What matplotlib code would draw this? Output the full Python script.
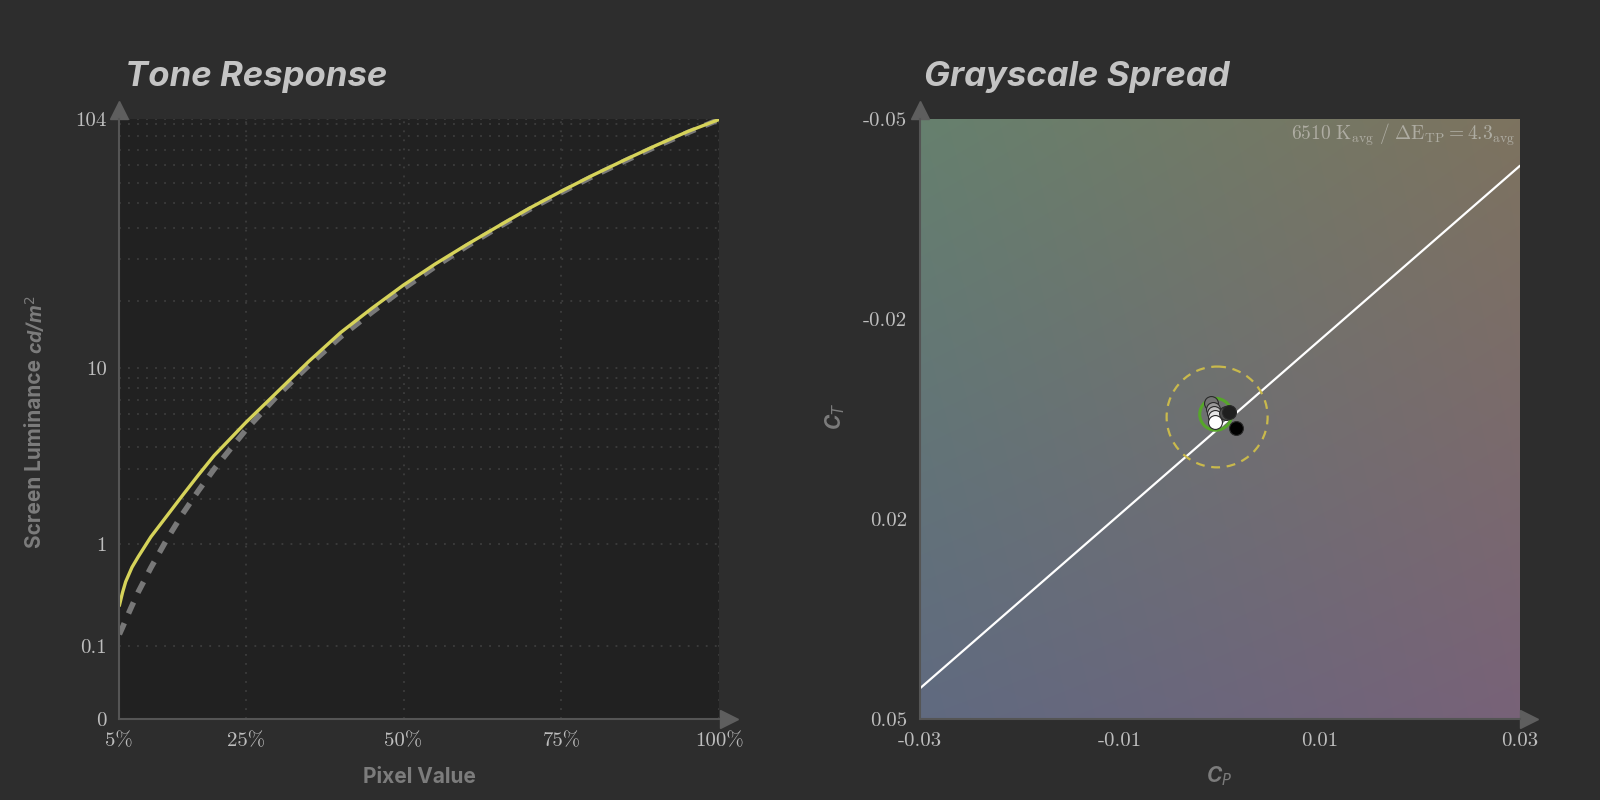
import numpy as np
import matplotlib.pyplot as plt
from matplotlib.patches import Ellipse

# Tone response: pixel value (%) vs screen luminance (cd/m2)
pixel_pct = [5, 5.5, 6, 7, 8, 10, 12.5, 15, 17.5, 20, 25, 30, 35, 40, 45, 50, 55, 60, 65, 70, 75, 80, 85, 90, 95, 100]
measured_lum = [0.30, 0.40, 0.50, 0.66, 0.80, 1.12, 1.55, 2.1, 2.78, 3.59, 5.39, 7.69, 10.76, 14.53, 18.62, 23.39,
                28.6, 34.3, 40.7, 48.0, 55.8, 64.3, 73.4, 83.3, 93.8, 104.0]
target_lum = [0.144, 0.175, 0.213, 0.300, 0.406, 0.656, 1.07, 1.60, 2.24, 3.01, 4.93, 7.36, 10.3, 13.9, 17.9, 22.6,
              27.9, 33.8, 40.3, 47.5, 55.2, 63.7, 72.7, 82.5, 92.9, 104.0]
x_ticks = [5, 25, 50, 75, 100]
x_labels = ["5%", "25%", "50%", "75%", "100%"]
y_ticks = [0, 0.1, 1, 10, 104]
y_labels = ["0", "0.1", "1", "10", "104"]
y_minor = [2, 3, 4, 5, 6, 7, 8, 9, 20, 30, 40, 50, 60, 70, 80, 90, 100]

# Grayscale spread: grey level of each patch and its Cp / Ct error
gray_levels = [0.0, 0.12, 0.3, 0.45, 0.6, 0.75, 0.9, 1.0]
cp_vals = [0.00162, 0.00095, 0.00065, -0.00087, -0.00067, -0.00060, -0.00048, -0.00041]
ct_vals = [0.00143, -0.00130, -0.00110, -0.00270, -0.00175, -0.00100, -0.00047, 0.00048]
locus_cp = [-0.03, 0.03]
locus_ct = [0.0449, -0.0422]
avg_center = (-0.00038, -0.00084)
tol_center = (-0.00024, -0.00040)
cp_ticks = [-0.03, -0.01, 0.01, 0.03]
cp_labels = ["-0.03", "-0.01", "0.01", "0.03"]
ct_ticks = list(np.linspace(-0.05, 0.05, 4))
ct_labels = ["-0.05", "-0.02", "0.02", "0.05"]
# background corner colours: top-left, top-right, bottom-left, bottom-right
bg_corners = ["#66806e", "#7d735f", "#606a80", "#786278"]

BG = "#2d2d2d"
TICK_C = "#bdbdbd"
LABEL_C = "#7c7c7c"
AXIS_C = "#555555"
SANS = ['Inter', 'Roboto', 'DejaVu Sans']

plt.rcParams['mathtext.fontset'] = 'cm'

# PQ (SMPTE ST 2084) luminance scale
m1, m2 = 0.1593017578125, 78.84375
c1, c2, c3 = 0.8359375, 18.8515625, 18.6875


def pq_fwd(L):
    y = np.clip(np.asarray(L, dtype=float), 0, None) / 10000.0
    ym = y ** m1
    return ((c1 + c2 * ym) / (1 + c3 * ym)) ** m2


def pq_inv(V):
    v = np.clip(np.asarray(V, dtype=float), 1e-12, 1.0) ** (1 / m2)
    num = np.clip(v - c1, 0, None)
    den = np.clip(c2 - c3 * v, 1e-9, None)
    return 10000.0 * (num / den) ** (1 / m1)


fig = plt.figure(figsize=(16, 8), dpi=100, facecolor=BG)
ax1 = fig.add_axes([0.0746, 0.1008, 0.375, 0.75])
ax2 = fig.add_axes([0.5747, 0.1008, 0.375, 0.75])

# ---- Tone Response ----
ax1.set_facecolor("#212121")
ax1.set_yscale('function', functions=(pq_fwd, pq_inv))
ax1.plot(pixel_pct, target_lum, color="#787878", lw=4.0, linestyle=(0, (2.2, 1.9)), zorder=3)
ax1.plot(pixel_pct, measured_lum, color="#d6d35a", lw=2.4, zorder=4,
         solid_capstyle='round', solid_joinstyle='round')
ax1.set_xlim(5, 100)
ax1.set_ylim(0, 104)
ax1.set_xticks(x_ticks)
ax1.set_xticklabels(x_labels, fontfamily='cmr10', fontsize=15, color=TICK_C)
ax1.set_yticks(y_ticks)
ax1.set_yticklabels(y_labels, fontfamily='cmr10', fontsize=15, color=TICK_C)
ax1.set_yticks(y_minor, minor=True)
ax1.tick_params(which='both', length=0, pad=9)
ax1.grid(True, which='both', color="#3d3d3d", linestyle=(0, (1, 4)), lw=1.3)

# ---- Grayscale Spread ----
grid_n = 200
tl, tr, bl, br = [np.array(plt.matplotlib.colors.to_rgb(c)) for c in bg_corners]
u = np.linspace(0, 1, grid_n)[None, :, None]
v = np.linspace(0, 1, grid_n)[:, None, None]
bg_img = (1 - v) * ((1 - u) * tl + u * tr) + v * ((1 - u) * bl + u * br)
ax2.imshow(bg_img, extent=[-0.03, 0.03, 0.05, -0.05], aspect='auto', zorder=0, interpolation='bilinear')

ax2.plot(locus_cp, locus_ct, color="white", lw=1.6, zorder=2)
ax2.add_patch(Ellipse(tol_center, 0.0101, 0.0168, fill=False, edgecolor="#c9b94c",
                      lw=1.6, linestyle=(0, (4, 3)), zorder=3))
ax2.add_patch(Ellipse(avg_center, 0.0032, 0.0053, fill=False, edgecolor="#56a62a",
                      lw=2.2, zorder=4))
order = [3, 4, 5, 6, 7, 2, 1, 0]
for i in order:
    g = gray_levels[i]
    ax2.scatter(cp_vals[i], ct_vals[i], s=100, color=(g, g, g), edgecolors="#2a2a2a",
                linewidths=0.8, zorder=5)

ax2.set_xlim(-0.03, 0.03)
ax2.set_ylim(0.05, -0.05)
ax2.set_xticks(cp_ticks)
ax2.set_xticklabels(cp_labels, fontfamily='cmr10', fontsize=15, color=TICK_C)
ax2.set_yticks(ct_ticks)
ax2.set_yticklabels(ct_labels, fontfamily='cmr10', fontsize=15, color=TICK_C)
ax2.tick_params(length=0, pad=9)
ax2.text(0.993, 0.966,
         r'$6510\ \mathrm{K}_{\mathrm{avg}}\ /\ \Delta\mathrm{E}_{\mathrm{TP}} = 4.3_{\mathrm{avg}}$',
         transform=ax2.transAxes, ha='right', va='baseline', fontsize=14, color="#aeaca2", zorder=6)

# spines and arrow heads
for ax in (ax1, ax2):
    ax.spines['top'].set_visible(False)
    ax.spines['right'].set_visible(False)
    for s in ('left', 'bottom'):
        ax.spines[s].set_color(AXIS_C)
        ax.spines[s].set_linewidth(1.5)
        ax.spines[s].set_zorder(6)
    ax.plot(1.016, 0, marker='>', ms=13, color="#5e5e5e", transform=ax.transAxes, clip_on=False)
    ax.plot(0, 1.016, marker='^', ms=13, color="#5e5e5e", transform=ax.transAxes, clip_on=False)

# titles and labels
title_kw = dict(fontsize=25, fontweight='bold', fontstyle='italic', color="#c4c4c4",
                family=SANS, va='baseline', ha='left')
fig.text(0.0784, 0.893, "Tone Response", **title_kw)
fig.text(0.5778, 0.893, "Grayscale Spread", **title_kw)

lab_kw = dict(fontsize=15, fontweight='bold', color=LABEL_C, family=SANS)
fig.text(0.2621, 0.0216, "Pixel Value", ha='center', va='baseline', **lab_kw)
main = fig.text(0.0217, 0.315, "Screen Luminance", ha='center', va='bottom', rotation=90, **lab_kw)
fig.canvas.draw()
main_top = main.get_window_extent().y1 / fig.bbox.height
fig.text(0.0217, main_top + 0.006, r"cd/m$^2$", ha='center', va='bottom', rotation=90, fontsize=14,
         fontstyle='italic', fontweight='bold', color=LABEL_C, family=SANS,
         math_fontfamily='dejavusans')

fig.text(0.7622, 0.0216, r"C$_P$", ha='center', va='baseline', fontstyle='italic',
         math_fontfamily='dejavusans', **lab_kw)
fig.text(0.5217, 0.48, r"C$_T$", ha='center', va='center', rotation=90, fontstyle='italic',
         math_fontfamily='dejavusans', **lab_kw)

fig.savefig("out.png", dpi=100, facecolor=BG)
